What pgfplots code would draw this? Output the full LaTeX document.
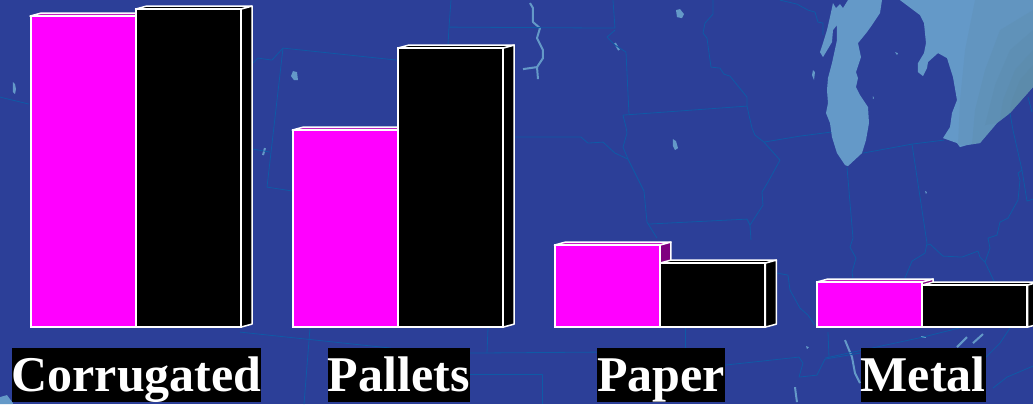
\documentclass[border=0pt]{standalone}
\usepackage{pgfplots}
\usepackage{fontspec}
\setmainfont{Liberation Serif}
\pgfplotsset{compat=1.18}
\definecolor{bg}{HTML}{2C3F98}
\definecolor{bord}{HTML}{0F5AA6}
\definecolor{lake}{HTML}{6499C8}
\definecolor{lakedk}{HTML}{58839A}
\definecolor{pk}{HTML}{FF00FF}
\definecolor{pktop}{HTML}{C020C0}
\definecolor{pkside}{HTML}{800080}
% state borders: pixel coordinates of the picture
\newcommand{\bl}[1]{\addplot[bord,line width=0.8pt,line join=round] coordinates {#1};}
\newcommand{\lk}[1]{\addplot[draw=none,fill=lake] coordinates {#1} --cycle;}
\newcommand{\rv}[1]{\addplot[lake,line width=2pt,line join=round] coordinates {#1};}
\newcommand{\dk}[1]{\addplot[draw=none,fill=lakedk,fill opacity=0.16] coordinates {#1} --cycle;}
% 3D faces of a bar: left x (data), height, top colour, side colour
\newcommand{\faces}[4]{%
  \addplot[draw=white,line width=1.5pt,fill=#3,line join=round] coordinates {({#1},#2) ({#1+0.042},{#2+3}) ({#1+0.4024+0.042},{#2+3}) ({#1+0.4024},#2)} --cycle;
  \addplot[draw=white,line width=1.5pt,fill=#4,line join=round] coordinates {({#1+0.4024},0) ({#1+0.4024+0.042},3) ({#1+0.4024+0.042},{#2+3}) ({#1+0.4024},#2)} --cycle;
}
\begin{document}
\begin{tikzpicture}
\begin{axis}[name=map,at={(0,0)},anchor=south west,width=1033pt,height=404pt,scale only axis,
  xmin=0,xmax=1033,ymin=0,ymax=404,y dir=reverse,hide axis,clip=true]
\addplot[draw=none,fill=bg] coordinates {(0,0) (1033,0) (1033,404) (0,404)} --cycle;
% lakes
\lk{(833,3)(836,8)(840,4)(843,8)(848,0)(882,0)(880,13)(872,25)(867,32)(858,43)(861,57)(856,72)(858,78)(856,87)(860,95)(868,107)(869,123)(866,140)(862,153)(848,166)(845,165)(837,153)(832,137)(830,123)(826,113)(828,103)(827,90)(828,78)(832,63)(837,40)(837,25)(833,30)(832,42)(823,57)(820,52)(823,43)(827,30)(830,17)}
\lk{(900,0)(920,15)(924,23)(926,43)(924,53)(918,63)(918,72)(923,76)(927,68)(928,62)(938,53)(947,58)(953,77)(957,100)(952,113)(950,127)(943,138)(957,143)(960,147)(967,145)(980,143)(997,123)(1010,113)(1033,87)(1033,0)}
\dk{(1033,0)(975,0)(965,50)(960,100)(958,145)(967,145)(980,143)(997,123)(1010,113)(1033,87)}
\dk{(1033,10)(1000,30)(985,70)(975,110)(972,144)(980,143)(997,123)(1010,113)(1033,87)}
\dk{(1033,30)(1010,50)(995,85)(985,125)(997,123)(1010,113)(1033,87)}
\dk{(1033,50)(1015,70)(1003,100)(1000,120)(1010,113)(1033,87)}
\dk{(1033,65)(1020,80)(1012,100)(1010,113)(1033,87)}
\lk{(813,70)(815,72)(814,80)(812,75)}
\lk{(676,10)(680,9)(684,14)(682,18)(677,17)}
\lk{(673,139)(676,141)(678,148)(675,150)(673,146)}
\lk{(293,71)(297,72)(298,80)(294,80)(291,76)}
\lk{(13,82)(15,84)(16,89)(15,94)(13,92)}
\lk{(0,397)(7,395)(13,403)(13,404)(0,404)}
\lk{(895,52)(898,53)(897,55)}
\lk{(873,96)(874,98)(873,99)}
\lk{(925,191)(927,192)(926,194)}
\lk{(806,346)(809,347)(807,349)}
\lk{(921,336)(926,336)(926,338)(921,338)}
\rv{(530,3)(533,8)(533,22)(540,28)(537,38)(543,50)(543,58)(537,67)(523,69)}
\rv{(537,67)(538,79)}
\rv{(615,43)(619,50)}
\rv{(263,155)(265,148)}
\rv{(845,340)(852,357)(855,373)(860,383)}
\rv{(795,387)(796,395)(797,402)}
\rv{(957,347)(967,337)}
\rv{(973,343)(983,334)}
% borders
\bl{(451,0)(449,27)(448,45)}
\bl{(449,27)(615,28)(613,0)}
\bl{(615,30)(607,37)(615,45)(626,52)(629,114)}
\bl{(623,115)(747,106)}
\bl{(713,0)(713,14)(705,23)(703,33)(707,38)(711,67)(720,68)(724,74)(730,76)(747,97)(747,106)(752,128)(755,135)(764,142)(780,160)(768,182)(762,192)(763,205)(750,225)(747,219)(648,224)}
\bl{(750,225)(751,240)}
\bl{(764,142)(800,136)(831,132)}
\bl{(623,115)(626,127)(627,133)(623,147)(628,159)(637,177)(644,191)(647,222)(657,238)}
\bl{(514,137)(581,137)(588,143)(603,142)(615,153)(628,159)}
\bl{(253,63)(258,58)(272,60)(283,48)(397,60)}
\bl{(283,48)(267,187)(293,191)}
\bl{(253,149)(270,152)}
\bl{(0,97)(29,104)}
\bl{(847,167)(853,238)(850,247)(856,258)(852,272)(853,278)}
\bl{(863,153)(912,144)(944,140)}
\bl{(912,144)(927,243)(925,253)(912,261)(905,278)}
\bl{(927,245)(930,244)(943,256)(962,257)(978,251)(980,257)(985,262)(990,248)(988,238)(997,235)(1000,222)(1008,218)(1018,200)(1020,180)(1018,173)(1022,170)(1013,130)(1010,113)}
\bl{(985,262)(995,283)}
\bl{(1022,170)(1027,201)(1033,199)}
\bl{(1028,97)(1032,112)}
\bl{(780,0)(797,4)(808,10)(815,12)(818,22)(823,23)(823,35)}
\bl{(777,273)(788,275)(790,290)(800,308)(808,315)(815,325)}
\bl{(240,332)(391,348)}
\bl{(310,328)(304,404)}
\bl{(488,328)(487,353)}
\bl{(469,353)(597,352)}
\bl{(469,374)(542,374)(542,404)}
\bl{(685,328)(685,348)}
\bl{(725,365)(799,357)(803,363)(799,377)(817,375)(825,359)(860,353)}
\bl{(828,332)(829,357)}
\bl{(825,358)(923,337)(963,327)}
\bl{(993,388)(1007,377)(1033,366)}
\bl{(985,358)(1000,343)(1010,328)}
\end{axis}
\begin{axis}[at={(0,72pt)},anchor=south west,width=1033pt,height=332pt,scale only axis,
  xmin=-0.5168,xmax=3.4229,ymin=-5,ymax=327,
  axis line style={draw=none},major tick length=0pt,ytick=\empty,
  xtick={0,1,2,3},xticklabels={Corrugated,Pallets,Paper,Metal},
  xticklabel shift=16pt,
  x tick label style={anchor=north,xshift=1pt,fill=black,text=white,inner xsep=0pt,inner ysep=0pt,
    text height=43pt,text depth=11pt,font=\fontsize{50pt}{50pt}\selectfont\bfseries},
  clip=true]
\faces{-0.4024}{311}{pktop}{pkside}
\faces{0.5976}{197}{pktop}{pkside}
\faces{1.5976}{82}{pktop}{pkside}
\faces{2.5976}{45}{pktop}{pkside}
\addplot[ybar,bar width=105pt,bar shift=-52.5pt,draw=white,line width=2pt,fill=pk]
  coordinates {(0,311) (1,197) (2,82) (3,45)};
\faces{0}{318}{black}{black}
\faces{1}{279}{black}{black}
\faces{2}{64}{black}{black}
\faces{3}{42}{black}{black}
\addplot[ybar,bar width=105pt,bar shift=52.5pt,draw=white,line width=2pt,fill=black]
  coordinates {(0,318) (1,279) (2,64) (3,42)};
\end{axis}
\end{tikzpicture}
\end{document}
